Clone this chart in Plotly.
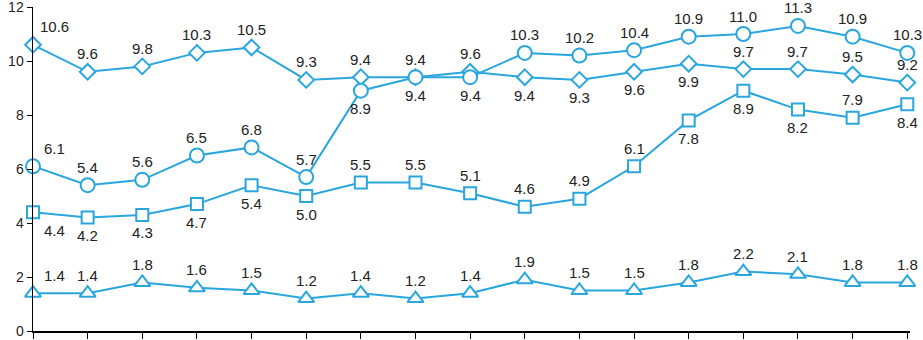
import plotly.graph_objects as go

x_idx = list(range(17))
diamond = [10.6, 9.6, 9.8, 10.3, 10.5, 9.3, 9.4, 9.4, 9.6, 9.4, 9.3, 9.6, 9.9, 9.7, 9.7, 9.5, 9.2]
circle = [6.1, 5.4, 5.6, 6.5, 6.8, 5.7, 8.9, 9.4, 9.4, 10.3, 10.2, 10.4, 10.9, 11.0, 11.3, 10.9, 10.3]
square = [4.4, 4.2, 4.3, 4.7, 5.4, 5.0, 5.5, 5.5, 5.1, 4.6, 4.9, 6.1, 7.8, 8.9, 8.2, 7.9, 8.4]
triangle = [1.4, 1.4, 1.8, 1.6, 1.5, 1.2, 1.4, 1.2, 1.4, 1.9, 1.5, 1.5, 1.8, 2.2, 2.1, 1.8, 1.8]
y_ticks = [0, 2, 4, 6, 8, 10, 12]

# label placement: 1 = above, -1 = below
diamond_pos = [1]*9 + [-1, -1, -1, -1, 1, 1, 1, 1]
circle_pos = [1]*6 + [-1, -1, -1] + [1]*8
square_pos = [-1]*6 + [1]*6 + [-1, -1, -1, 1, -1]
triangle_pos = [1]*17

BLUE = "#2aa6de"
FONT = "Liberation Sans, Arial, sans-serif"
series = [
    ("diamond", diamond, diamond_pos, 12),
    ("circle", circle, circle_pos, 14),
    ("square", square, square_pos, 12),
    ("triangle-up", triangle, triangle_pos, 14),
]

fig = go.Figure()
annotations = []
for sym, vals, pos, size in series:
    fig.add_trace(go.Scatter(
        x=x_idx, y=vals, mode="lines+markers",
        line=dict(color=BLUE, width=2),
        marker=dict(symbol=sym, size=size, color="white", line=dict(color=BLUE, width=2)),
        cliponaxis=False, showlegend=False, hoverinfo="skip",
    ))
    for i, (v, p) in enumerate(zip(vals, pos)):
        annotations.append(dict(
            x=i, y=v, text=f"{v:.1f}", showarrow=False,
            xshift=21 if i == 0 else 0,
            yshift=18 * p,
            font=dict(family=FONT, size=15, color="#222222"),
        ))

fig.update_layout(
    width=923, height=340,
    margin=dict(l=33, r=13, t=7, b=9, autoexpand=False),
    paper_bgcolor="white", plot_bgcolor="white",
    annotations=annotations,
    font=dict(family=FONT, size=14, color="#222222"),
    xaxis=dict(range=[0, 16.05], tickmode="array", tickvals=x_idx, ticktext=[""]*17,
               ticks="outside", ticklen=6, tickcolor="black", tickwidth=1,
               showline=True, linecolor="black", linewidth=1.5,
               showgrid=False, zeroline=False, automargin=False),
    yaxis=dict(range=[0, 12], tickmode="array", tickvals=y_ticks,
               ticktext=[str(t) for t in y_ticks],
               ticks="outside", ticklen=5, tickcolor="black", tickwidth=1,
               showline=True, linecolor="black", linewidth=1.5,
               showgrid=False, zeroline=False, automargin=False,
               ticklabeloverflow="allow"),
)

fig.write_html("out.html", config={"displayModeBar": False, "staticPlot": True},
               post_script="document.body.style.margin='0';document.body.style.overflow='hidden';")
